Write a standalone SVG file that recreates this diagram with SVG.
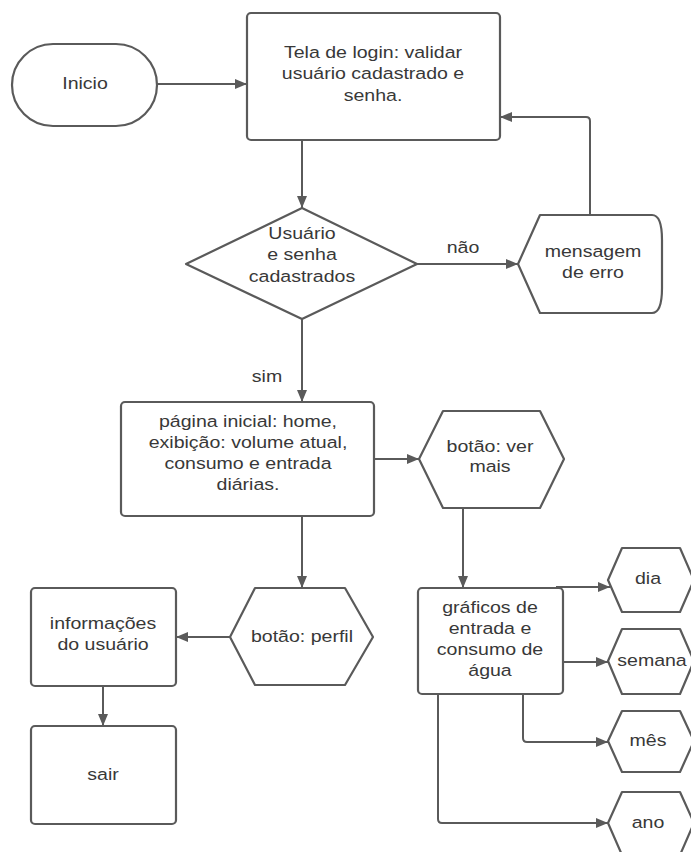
<svg xmlns="http://www.w3.org/2000/svg" width="691" height="852" viewBox="0 0 691 852">
  <defs>
    <style>
      .shape { fill: #ffffff; stroke: #5a5a5a; stroke-width: 2.2; stroke-linejoin: round; }
      .edge { fill: none; stroke: #5a5a5a; stroke-width: 2; }
      .t { font-family: "Liberation Sans", Arial, sans-serif; font-size: 17px; fill: #383838; text-anchor: middle; }
    </style>
    <marker id="arrow" viewBox="0 0 12 10" refX="12" refY="5" markerWidth="13" markerHeight="10" markerUnits="userSpaceOnUse" orient="auto">
      <path d="M0,0 L12,5 L0,10 z" fill="#5a5a5a"/>
    </marker>
  </defs>
  <rect width="691" height="852" fill="#ffffff"/>

  <!-- connectors -->
  <g id="connectors">
    <path class="edge" d="M157,84 L247,84" marker-end="url(#arrow)"/>
    <path class="edge" d="M302,140 L302,208" marker-end="url(#arrow)"/>
    <path class="edge" d="M417,264 L518,264" marker-end="url(#arrow)"/>
    <path class="edge" d="M590,215 L590,121 Q590,117 586,117 L500,117" marker-end="url(#arrow)"/>
    <path class="edge" d="M302,319 L302,402" marker-end="url(#arrow)"/>
    <path class="edge" d="M374,459 L419,459" marker-end="url(#arrow)"/>
    <path class="edge" d="M302,516 L302,588" marker-end="url(#arrow)"/>
    <path class="edge" d="M463,508 L463,588" marker-end="url(#arrow)"/>
    <path class="edge" d="M230,637 L176,637" marker-end="url(#arrow)"/>
    <path class="edge" d="M103,686 L103,726" marker-end="url(#arrow)"/>
    <path class="edge" d="M556,587 L610,587" marker-end="url(#arrow)"/>
    <path class="edge" d="M563,662 L608,662" marker-end="url(#arrow)"/>
    <path class="edge" d="M523,694 L523,738 Q523,742 527,742 L608,742" marker-end="url(#arrow)"/>
    <path class="edge" d="M438,694 L438,819 Q438,823 442,823 L608,823" marker-end="url(#arrow)"/>
    <text class="t" transform="translate(463 253) scale(1.15 1)">não</text>
    <text class="t" transform="translate(267 382) scale(1.15 1)">sim</text>
  </g>

  <g id="inicio">
    <rect class="shape" x="12" y="44" width="145" height="82" rx="41" ry="41"/>
    <text class="t" transform="translate(85 89) scale(1.15 1)">Inicio</text>
  </g>

  <g id="login">
    <rect class="shape" x="247" y="13" width="253" height="127" rx="4"/>
    <text class="t" transform="translate(373 58) scale(1.15 1)"><tspan x="0">Tela de login: validar</tspan><tspan x="0" dy="21.5">usuário cadastrado e</tspan><tspan x="0" dy="21.5">senha.</tspan></text>
  </g>

  <g id="validacao">
    <path class="shape" d="M186,264 L302,208 L417,264 L302,319 Z"/>
    <text class="t" transform="translate(302 239) scale(1.15 1)"><tspan x="0">Usuário</tspan><tspan x="0" dy="21.5">e senha</tspan><tspan x="0" dy="21.5">cadastrados</tspan></text>
  </g>

  <g id="erro">
    <path class="shape" d="M518,264 L540,215 L652,215 Q662,215 662,240 L662,288 Q662,313 652,313 L540,313 Z"/>
    <text class="t" transform="translate(593 257) scale(1.15 1)"><tspan x="0">mensagem</tspan><tspan x="0" dy="21">de erro</tspan></text>
  </g>

  <g id="pagina-inicial">
    <rect class="shape" x="121" y="402" width="253" height="114" rx="4"/>
    <text class="t" transform="translate(248 427) scale(1.15 1)"><tspan x="0">página inicial: home,</tspan><tspan x="0" dy="21">exibição: volume atual,</tspan><tspan x="0" dy="21">consumo e entrada</tspan><tspan x="0" dy="21">diárias.</tspan></text>
  </g>

  <g id="ver-mais">
    <path class="shape" d="M419,459 L443,411 L540,411 L564,459 L540,508 L443,508 Z"/>
    <text class="t" transform="translate(490 452) scale(1.15 1)"><tspan x="0">botão: ver</tspan><tspan x="0" dy="20.5">mais</tspan></text>
  </g>

  <g id="perfil">
    <path class="shape" d="M230,637 L255,588 L345,588 L373,637 L345,685 L255,685 Z"/>
    <text class="t" transform="translate(302 642) scale(1.15 1)">botão: perfil</text>
  </g>

  <g id="info-usuario">
    <rect class="shape" x="31" y="588" width="145" height="98" rx="4"/>
    <text class="t" transform="translate(103 629) scale(1.15 1)"><tspan x="0">informações</tspan><tspan x="0" dy="21">do usuário</tspan></text>
  </g>

  <g id="sair">
    <rect class="shape" x="31" y="726" width="145" height="98" rx="4"/>
    <text class="t" transform="translate(103 780) scale(1.15 1)">sair</text>
  </g>

  <g id="graficos">
    <rect class="shape" x="418" y="588" width="145" height="106" rx="4"/>
    <text class="t" transform="translate(490 613) scale(1.15 1)"><tspan x="0">gráficos de</tspan><tspan x="0" dy="21">entrada e</tspan><tspan x="0" dy="21">consumo de</tspan><tspan x="0" dy="21">água</tspan></text>
  </g>

  <g id="dia">
    <path class="shape" d="M608,580 L622,548 L680,548 L694,580 L680,612 L622,612 Z"/>
    <text class="t" transform="translate(648 584) scale(1.15 1)">dia</text>
  </g>

  <g id="semana">
    <path class="shape" d="M608,661 L622,629 L680,629 L694,661 L680,694 L622,694 Z"/>
    <text class="t" transform="translate(652 666) scale(1.15 1)">semana</text>
  </g>

  <g id="mes">
    <path class="shape" d="M608,741 L622,711 L680,711 L694,741 L680,772 L622,772 Z"/>
    <text class="t" transform="translate(648 746) scale(1.15 1)">mês</text>
  </g>

  <g id="ano">
    <path class="shape" d="M608,823 L622,792 L680,792 L694,823 L680,855 L622,855 Z"/>
    <text class="t" transform="translate(648 828) scale(1.15 1)">ano</text>
  </g>
</svg>
